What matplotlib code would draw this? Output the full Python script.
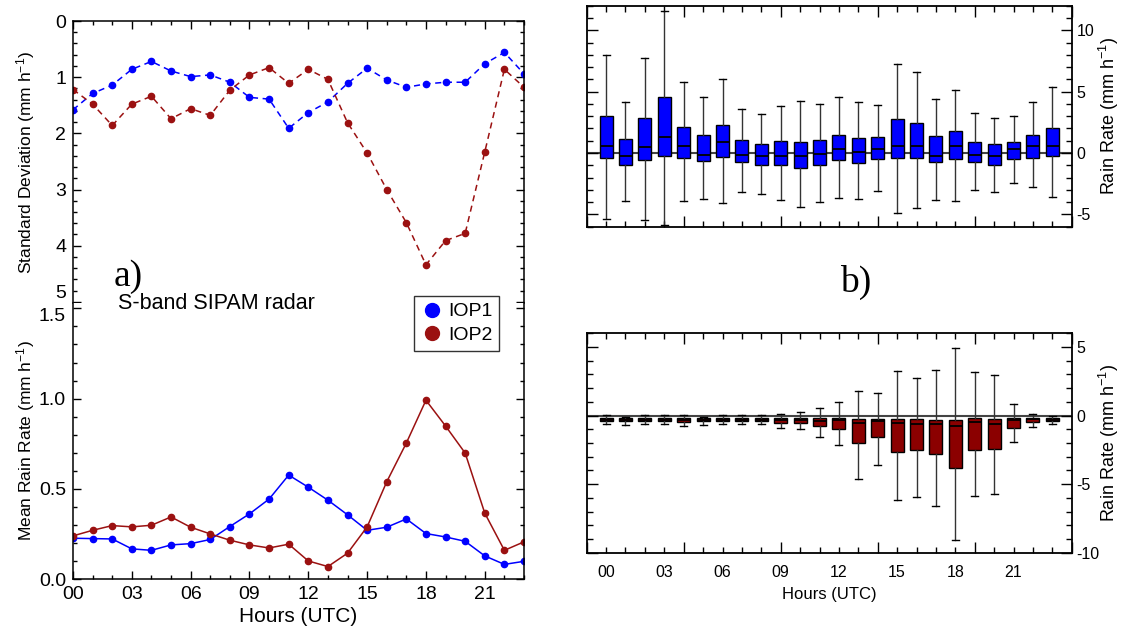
import matplotlib
matplotlib.use('Agg')
import matplotlib.pyplot as plt
from matplotlib.ticker import MultipleLocator, FormatStrFormatter
from matplotlib.lines import Line2D
import numpy as np

plt.rcParams['font.family'] = ['Liberation Sans', 'DejaVu Sans']
plt.rcParams['mathtext.default'] = 'regular'
plt.rcParams['axes.unicode_minus'] = False

hours = np.arange(24)
hour_labels = ['00', '03', '06', '09', '12', '15', '18', '21']
sd_ticks = [0, 1, 2, 3, 4, 5]
mean_ticks = [0.0, 0.5, 1.0, 1.5]

# standard deviation (mm/h), panel a top
std_iop1 = [1.58, 1.29, 1.14, 0.86, 0.72, 0.89, 0.99, 0.96, 1.09, 1.36, 1.39, 1.91,
            1.63, 1.44, 1.11, 0.84, 1.05, 1.18, 1.12, 1.09, 1.09, 0.76, 0.56, 0.94]
std_iop2 = [1.22, 1.48, 1.86, 1.48, 1.34, 1.74, 1.56, 1.68, 1.23, 0.96, 0.83, 1.11,
            0.86, 1.04, 1.81, 2.35, 3.00, 3.59, 4.34, 3.91, 3.78, 2.33, 0.86, 1.18]

# mean rain rate (mm/h), panel a bottom
mean_iop1 = [0.226, 0.224, 0.222, 0.167, 0.159, 0.189, 0.196, 0.219, 0.291, 0.361, 0.443, 0.576,
             0.509, 0.437, 0.356, 0.270, 0.287, 0.333, 0.252, 0.233, 0.209, 0.128, 0.081, 0.098]
mean_iop2 = [0.239, 0.270, 0.296, 0.289, 0.298, 0.344, 0.287, 0.250, 0.215, 0.189, 0.172, 0.193,
             0.100, 0.069, 0.143, 0.289, 0.539, 0.754, 0.991, 0.848, 0.698, 0.365, 0.159, 0.206]

# box plot stats, panel b top (IOP1)
iop1_whishi = [8.0, 4.17, 7.75, 11.57, 5.75, 4.55, 6.07, 3.6, 3.14, 3.82, 4.2, 3.98,
               4.58, 4.12, 3.93, 7.29, 6.64, 4.42, 5.15, 3.22, 2.87, 3.0, 4.12, 5.39]
iop1_q3 = [2.98, 1.11, 2.82, 4.53, 2.11, 1.46, 2.28, 1.03, 0.7, 0.95, 0.92, 1.03,
           1.46, 1.19, 1.3, 2.76, 2.44, 1.36, 1.79, 0.92, 0.7, 0.92, 1.44, 2.03]
iop1_med = [0.57, -0.27, 0.46, 1.27, 0.6, -0.19, 0.87, -0.19, -0.24, -0.22, -0.27, -0.08,
            0.35, 0.08, 0.35, 0.6, 0.6, -0.22, 0.54, -0.19, -0.27, 0.33, 0.57, 0.6]
iop1_q1 = [-0.38, -0.95, -0.54, -0.22, -0.38, -0.68, -0.3, -0.7, -0.95, -0.95, -1.25, -1.0,
           -0.6, -0.81, -0.46, -0.38, -0.38, -0.76, -0.46, -0.7, -0.95, -0.46, -0.38, -0.27]
iop1_whislo = [-5.37, -3.93, -5.45, -5.9, -3.93, -3.74, -4.04, -3.2, -3.36, -3.82, -4.42, -3.96,
               -3.69, -3.77, -3.09, -4.9, -4.5, -3.82, -3.88, -3.0, -3.2, -2.47, -2.79, -3.6]

# box plot stats, panel b bottom (IOP2)
iop2_whishi = [0.05, -0.12, 0.05, 0.05, 0.07, -0.1, 0.05, 0.05, 0.05, 0.14, 0.27, 0.56,
               0.97, 1.82, 1.65, 3.26, 2.75, 3.36, 4.94, 3.16, 2.99, 0.83, 0.14, 0.0]
iop2_q3 = [-0.19, -0.19, -0.19, -0.19, -0.19, -0.19, -0.19, -0.19, -0.19, -0.19, -0.19, -0.19,
           -0.19, -0.24, -0.24, -0.24, -0.24, -0.29, -0.29, -0.19, -0.24, -0.17, -0.19, -0.17]
iop2_med = [-0.3, -0.3, -0.3, -0.3, -0.32, -0.3, -0.3, -0.3, -0.3, -0.31, -0.29, -0.36,
            -0.34, -0.53, -0.39, -0.53, -0.65, -0.65, -0.77, -0.48, -0.63, -0.29, -0.27, -0.29]
iop2_q1 = [-0.41, -0.4, -0.41, -0.41, -0.45, -0.4, -0.41, -0.4, -0.4, -0.53, -0.53, -0.77,
           -1.01, -2.02, -1.57, -2.63, -2.53, -2.8, -3.82, -2.48, -2.43, -0.87, -0.46, -0.39]
iop2_whislo = [-0.63, -0.68, -0.63, -0.63, -0.73, -0.66, -0.65, -0.63, -0.63, -0.87, -0.99, -1.57,
               -2.17, -4.6, -3.59, -6.18, -5.94, -6.57, -9.1, -5.86, -5.72, -1.9, -0.82, -0.6]

blue = '#0000ff'
red = '#9b1111'
box_red = '#8b0000'

W, H = 1121, 630
fig = plt.figure(figsize=(W / 100, H / 100), dpi=100)

ax_sd = fig.add_axes([73 / W, 1 - 303 / H, 451 / W, 282 / H])
ax_mean = fig.add_axes([73 / W, 1 - 579 / H, 451 / W, 276 / H])
ax_b1 = fig.add_axes([586.7 / W, 1 - 226.7 / H, 485 / W, 221 / H])
ax_b2 = fig.add_axes([586.7 / W, 1 - 552.7 / H, 485 / W, 219.4 / H])

# ---- panel a
ax_sd.plot(hours, std_iop1, color=blue, ls='--', dashes=(4, 3), lw=1.1, marker='o', ms=4.5)
ax_sd.plot(hours, std_iop2, color=red, ls='--', dashes=(4, 3), lw=1.1, marker='o', ms=4.5)
ax_sd.set_xlim(0, 23)
ax_sd.set_ylim(5.02, 0)
ax_sd.set_yticks(sd_ticks)
ax_sd.yaxis.set_minor_locator(MultipleLocator(0.2))
ax_sd.set_ylabel('Standard Deviation (mm h$^{-1}$)', fontsize=12.5)
ax_sd.yaxis.set_label_coords(-0.079, 0.5)

ax_mean.plot(hours, mean_iop1, color=blue, lw=1.1, marker='o', ms=4.5)
ax_mean.plot(hours, mean_iop2, color=red, lw=1.1, marker='o', ms=4.5)
ax_mean.set_xlim(0, 23)
ax_mean.set_ylim(0, 1.53)
ax_mean.set_yticks(mean_ticks)
ax_mean.yaxis.set_minor_locator(MultipleLocator(0.1))
ax_mean.yaxis.set_major_formatter(FormatStrFormatter('%.1f'))
ax_mean.set_ylabel('Mean Rain Rate (mm h$^{-1}$)', fontsize=12.5)
ax_mean.yaxis.set_label_coords(-0.079, 0.5)
ax_mean.set_xticks(hours[::3], hour_labels)
ax_mean.set_xlabel('Hours (UTC)', fontsize=15, labelpad=3)

for ax in (ax_sd, ax_mean):
    ax.xaxis.set_minor_locator(MultipleLocator(1))
    ax.tick_params(which='both', direction='in', top=True, right=True, labelsize=14, pad=5)
    ax.tick_params(which='major', length=6, width=1)
    ax.tick_params(which='minor', length=3, width=1)
    for s in ax.spines.values():
        s.set_linewidth(1.1)
ax_sd.set_xticks(hours[::3])
# the two halves of panel a share an open seam, no line or ticks across it
ax_sd.spines['bottom'].set_visible(False)
ax_sd.tick_params(axis='x', which='both', bottom=False, labelbottom=False)
ax_mean.spines['top'].set_visible(False)
ax_mean.tick_params(axis='x', which='both', top=False)

handles = [Line2D([], [], color=blue, marker='o', ls='none', ms=10, label='IOP1'),
           Line2D([], [], color=red, marker='o', ls='none', ms=10, label='IOP2')]
leg = fig.legend(handles=handles, loc='upper left', bbox_to_anchor=(414 / W, 1 - 296 / H),
                 fontsize=14, frameon=True, fancybox=False, edgecolor='black',
                 handletextpad=0.2, borderpad=0.35, labelspacing=0.3, handlelength=1.2,
                 borderaxespad=0)
leg.get_frame().set_linewidth(1.0)

fig.text(114 / W, 1 - 286 / H, 'a)', family='Liberation Serif', fontsize=27, ha='left', va='baseline')
fig.text(118 / W, 1 - 309 / H, 'S-band SIPAM radar', fontsize=15.5, ha='left', va='baseline')
fig.text(840 / W, 1 - 292 / H, 'b)', family='Liberation Serif', fontsize=27, ha='left', va='baseline')

# ---- panel b
def box_stats(lo, q1, med, q3, hi):
    return [dict(whislo=a, q1=b, med=c, q3=d, whishi=e, fliers=[])
            for a, b, c, d, e in zip(lo, q1, med, q3, hi)]

for ax, stats, fc in ((ax_b1, box_stats(iop1_whislo, iop1_q1, iop1_med, iop1_q3, iop1_whishi), blue),
                      (ax_b2, box_stats(iop2_whislo, iop2_q1, iop2_med, iop2_q3, iop2_whishi), box_red)):
    ax.axhline(0, color='#444444', lw=1.5, zorder=0.5)
    ax.bxp(stats, positions=hours, widths=0.68, capwidths=0.36, patch_artist=True,
           showfliers=False, manage_ticks=False,
           boxprops=dict(facecolor=fc, edgecolor='black', linewidth=1),
           medianprops=dict(color='black', linewidth=1.3),
           whiskerprops=dict(color='#333333', linewidth=1),
           capprops=dict(color='black', linewidth=1))
    ax.set_xlim(-1, 23.65)
    ax.set_xticks(np.arange(-1, 25, 5))
    ax.set_xticks(hours, minor=True)
    ax.yaxis.set_major_locator(MultipleLocator(5))
    ax.yaxis.set_minor_locator(MultipleLocator(1))
    ax.tick_params(which='both', direction='in', top=True, bottom=True, left=True, right=True,
                   labelbottom=False, labelleft=False, labelright=True, labelsize=11.5)
    ax.tick_params(which='major', length=8, width=1)
    ax.tick_params(which='minor', length=4, width=1)
    ax.yaxis.set_label_position('right')
    ax.set_ylabel('Rain Rate (mm h$^{-1}$)', fontsize=13, rotation=90)
    ax.yaxis.set_label_coords(1.052, 0.5)
    for s in ax.spines.values():
        s.set_linewidth(1.3)

ax_b1.set_ylim(-6, 12)
ax_b2.set_ylim(-10, 6)

sec = ax_b2.secondary_xaxis('bottom')
sec.set_xticks(hours[::3], hour_labels)
sec.tick_params(length=0, labelsize=11.5, pad=9)
sec.spines['bottom'].set_visible(False)
sec.set_xlabel('Hours (UTC)', fontsize=12, labelpad=5)

# keep "5" and "1.5" apart at the seam
ax_sd.yaxis.get_major_ticks()[sd_ticks.index(5)].label1.set_va('bottom')
ax_mean.yaxis.get_major_ticks()[mean_ticks.index(1.5)].label1.set_va('top')

fig.savefig('out.png', dpi=100)
